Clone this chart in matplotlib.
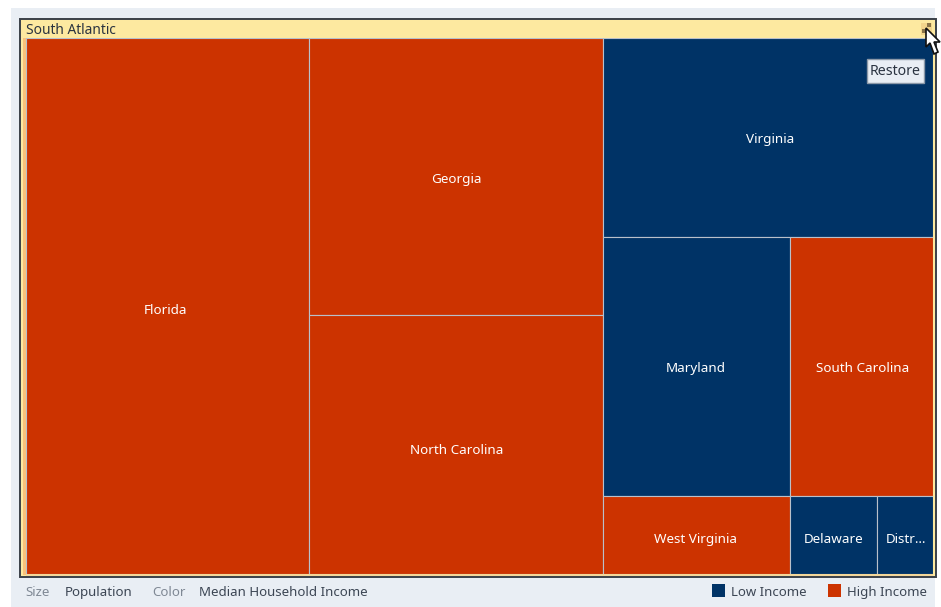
import matplotlib
matplotlib.use("Agg")
import matplotlib.pyplot as plt
from matplotlib.patches import Rectangle, Polygon

plt.rcParams['font.family'] = ['Noto Sans', 'DejaVu Sans']

title = "South Atlantic"
# Population (millions), read from tile areas, arranged in the treemap's columns and rows
col1_names = ["Florida"]
col1_values = [18.3]
col2_names = ["Georgia", "North Carolina"]
col2_values = [9.84, 9.17]
col3_row1_names = ["Virginia"]
col3_row1_values = [7.92]
col3_row2_names = ["Maryland", "South Carolina"]
col3_row2_values = [5.82, 4.45]
col3_row3_names = ["West Virginia", "Delaware", "District of Columbia"]
col3_row3_values = [1.76, 0.82, 0.53]
tile_labels = {"District of Columbia": "Distr…"}
low_income = ["Virginia", "Maryland", "Delaware", "District of Columbia"]
LOW = "#003366"
HIGH = "#CC3300"
legend_labels = ["Low Income", "High Income"]
footer_size = ["Size", "Population"]
footer_color = ["Color", "Median Household Income"]

# label nudges from tile centre, in pixels (right, down)
nudge = {"Florida": (-2.5, 5), "Georgia": (0, 3), "North Carolina": (0, 6),
         "Virginia": (2, 2), "Maryland": (-1, 2), "South Carolina": (1.5, 2),
         "West Virginia": (-1, 5), "Delaware": (0, 5), "District of Columbia": (1, 5)}

W, H = 941, 607
fig = plt.figure(figsize=(W / 100, H / 100), dpi=100, facecolor="white")

# chrome axes in pixel coordinates
bg = fig.add_axes([0, 0, 1, 1])
bg.set_xlim(0, W); bg.set_ylim(H, 0); bg.axis("off")
bg.add_patch(Rectangle((11, 8), 924, 599, fc="#E9EEF4", ec="none"))
bg.add_patch(Rectangle((20.5, 18.5), 916, 558, fc="#FDE9A0", ec="#3A4048", lw=1.4))
bg.add_patch(Rectangle((23, 38), 3, 537, fc="#F9C27C", ec="none"))
bg.add_patch(Rectangle((26, 574), 907, 2, fc="#F4D79A", ec="none"))
bg.text(26, 30.5, title, fontsize=9.9, color="#2A3340", va="center", ha="left")
ftc1, ftc2 = "#7F8894", "#3C4654"
fy = 592.5
fs = 9.55
bg.text(25, fy, footer_size[0], fontsize=fs, color=ftc1, va="center")
bg.text(65, fy, footer_size[1], fontsize=fs, color=ftc2, va="center")
bg.text(152, fy, footer_color[0], fontsize=fs, color=ftc1, va="center")
bg.text(199, fy, footer_color[1], fontsize=fs, color=ftc2, va="center")
bg.add_patch(Rectangle((712, 584), 13, 13, fc=LOW, ec="none"))
bg.text(731, fy, legend_labels[0], fontsize=9.5, color=ftc2, va="center")
bg.add_patch(Rectangle((828, 584), 13, 13, fc=HIGH, ec="none"))
bg.text(847, fy, legend_labels[1], fontsize=9.5, color=ftc2, va="center")

# treemap axes: x in population units, y in share of height
L, T, R, B = 26, 38, 933, 574
ax = fig.add_axes([L / W, 1 - B / H, (R - L) / W, (B - T) / H])
ax.axis("off")
ax.set_ylim(1, 0)


def tile(name, x, y, w, h):
    ax.add_patch(Rectangle((x, y), w, h, fc=LOW if name in low_income else HIGH,
                           ec="#B9C0CA", lw=0.8, clip_on=True))
    dx, dy = nudge[name]
    ax.annotate(tile_labels.get(name, name), (x + w / 2, y + h / 2),
                xytext=(dx * 0.72, -dy * 0.72), textcoords="offset points",
                color="white", fontsize=9.7, ha="center", va="center")


total = sum(col1_values + col2_values + col3_row1_values + col3_row2_values + col3_row3_values)
ax.set_xlim(0, total)

x = 0
for names, values in [(col1_names, col1_values), (col2_names, col2_values)]:
    cw = sum(values)
    y = 0
    for n, v in zip(names, values):
        tile(n, x, y, cw, v / cw)
        y += v / cw
    x += cw

rows = [(col3_row1_names, col3_row1_values), (col3_row2_names, col3_row2_values),
        (col3_row3_names, col3_row3_values)]
cw = sum(sum(v) for _, v in rows)
y = 0
for names, values in rows:
    rs = sum(values)
    rx = x
    for n, v in zip(names, values):
        tile(n, rx, y, cw * v / rs, rs / cw)
        rx += cw * v / rs
    y += rs / cw

# overlay: Restore button, resize icon and mouse cursor
ov = fig.add_axes([0, 0, 1, 1])
ov.set_xlim(0, W); ov.set_ylim(H, 0); ov.axis("off"); ov.patch.set_alpha(0)
ov.add_patch(Rectangle((867.5, 58.5), 57, 24, fc="#E9EEF4", ec="#8C99A8", lw=1))
ov.text(895.5, 71.5, "Restore", fontsize=10.2, color="#2A3340", ha="center", va="center")
ov.add_patch(Rectangle((921, 23), 11, 12, fc="#F3D58C", ec="none"))
ov.add_patch(Rectangle((922, 29), 4, 4, fc="#8A7448", ec="none"))
ov.add_patch(Rectangle((927, 23), 4, 4, fc="#8A7448", ec="none"))
ov.add_patch(Polygon([(926, 28), (926, 47), (930, 43), (934, 54), (938, 52), (934, 42), (940, 42)],
                     closed=True, fc="white", ec="#111111", lw=1.2))

fig.savefig("out.png", dpi=100, facecolor="white")
